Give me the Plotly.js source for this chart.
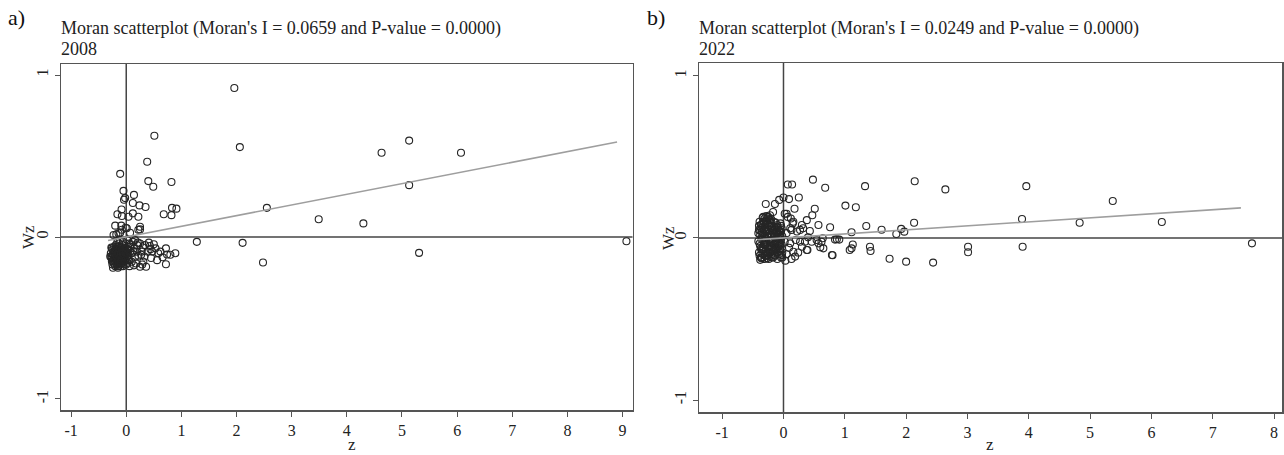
<!DOCTYPE html>
<html>
<head>
<meta charset="utf-8">
<script src="https://cdn.plot.ly/plotly-3.0.1.min.js"></script>
<style>html,body{margin:0;padding:0;background:#fff;}#chart{width:1284px;height:455px;}</style>
</head>
<body>
<div id="chart"></div>
<script>
// ---- Panel a) 2008 ----
const year2008 = "2008";
const moranI2008 = 0.0659;
const pValue2008 = "0.0000";
const z2008 = [
 1.96,0.51,2.06,5.13,4.63,6.07,5.13,2.55,3.49,4.30,1.28,2.11,2.48,5.31,9.07,
 0.38,-0.11,0.40,0.49,0.82,-0.05,-0.02,-0.04,0.14,0.12,0.24,0.35,0.83,0.91,0.68,0.82,
 -0.085,-0.16,-0.08,0.04,0.12,0.22,-0.20,-0.09,-0.01,0.25,0.25,-0.18,-0.11,0.07,
 -0.08,0.01,0.22,-0.14,-0.23,
 0.16,0.25,0.34,0.43,0.53,0.39,0.62,0.72,0.74,0.80,0.89,0.56,0.72,0.25,0.36,0.31,0.16,0.10,
 0.19,0.07,0.28,0.47,0.18,0.04,0.12,0.20,0.30,0.44,0.10,0.22,0.06,0.14,0.02,0.05,
 -0.28,-0.27,-0.26,-0.25,-0.25,-0.24,-0.23,-0.22,-0.22,-0.21,-0.21,-0.20,-0.19,-0.19,-0.18,-0.18,
 -0.17,-0.17,-0.16,-0.16,-0.15,-0.15,-0.14,-0.14,-0.13,-0.13,-0.12,-0.12,-0.11,-0.11,-0.10,-0.10,
 -0.09,-0.09,-0.08,-0.08,-0.07,-0.07,-0.06,-0.06,-0.05,-0.05,-0.04,-0.03,-0.03,-0.02,-0.01,0.00,
 0.01,0.02,0.03,0.04,0.05,-0.24,-0.20,-0.15,-0.27,-0.29,-0.12,-0.06,-0.01,0.02,-0.16,
 -0.27,-0.26,-0.24,-0.23,-0.22,-0.21,-0.20,-0.19,-0.18,-0.17,
 -0.16,-0.15,-0.14,-0.13,-0.12,-0.11,-0.10,-0.09,-0.08,-0.07,
 -0.06,-0.05,-0.04,-0.03,-0.02,-0.01,0.00,0.01,0.03,0.04,
 -0.25,-0.22,-0.18,-0.14,-0.10,-0.06,-0.02,0.02,
 0.08,0.14,0.21,0.27,0.33,0.41,0.50,0.58,0.66,0.13,0.29,0.45
];
const wz2008 = [
 0.92,0.625,0.555,0.595,0.52,0.52,0.32,0.18,0.11,0.084,-0.03,-0.036,-0.157,-0.098,-0.026,
 0.465,0.39,0.345,0.31,0.34,0.285,0.24,0.23,0.26,0.21,0.195,0.185,0.18,0.175,0.14,0.135,
 0.17,0.14,0.13,0.125,0.146,0.125,0.07,0.07,0.057,0.063,0.047,0.016,0.026,0.026,
 0.045,0.054,0.045,0.023,0.012,
 -0.019,-0.04,-0.05,-0.056,-0.07,-0.09,-0.09,-0.07,-0.108,-0.11,-0.10,-0.143,-0.168,-0.184,-0.184,-0.153,-0.122,-0.153,
 -0.09,-0.06,-0.09,-0.09,-0.164,-0.143,-0.03,-0.05,-0.065,-0.075,-0.10,-0.115,-0.18,-0.175,-0.08,-0.04,
 -0.10,-0.13,-0.15,-0.08,-0.17,-0.11,-0.14,-0.06,-0.16,-0.09,-0.12,-0.18,-0.05,-0.14,-0.10,-0.16,
 -0.08,-0.12,-0.15,-0.18,-0.06,-0.11,-0.13,-0.09,-0.16,-0.04,-0.12,-0.07,-0.15,-0.10,-0.18,-0.13,
 -0.06,-0.09,-0.14,-0.11,-0.16,-0.05,-0.12,-0.08,-0.15,-0.10,-0.13,-0.07,-0.17,-0.11,-0.14,-0.09,
 -0.12,-0.16,-0.06,-0.11,-0.14,-0.19,-0.075,-0.19,-0.065,-0.12,-0.02,-0.03,-0.04,-0.02,-0.03,
 -0.12,-0.07,-0.15,-0.09,-0.13,-0.17,-0.11,-0.08,-0.13,-0.17,
 -0.09,-0.14,-0.18,-0.10,-0.15,-0.07,-0.11,-0.16,-0.08,-0.13,
 -0.18,-0.07,-0.11,-0.15,-0.08,-0.10,-0.17,-0.07,-0.13,-0.08,
 -0.13,-0.10,-0.07,-0.165,-0.155,-0.105,-0.145,-0.10,
 -0.045,-0.07,-0.035,-0.11,-0.12,-0.035,-0.045,-0.10,-0.125,-0.09,-0.17,-0.13
];
const fitZ2008 = [-0.33, 8.9];

// ---- Panel b) 2022 ----
const year2022 = "2022";
const moranI2022 = 0.0249;
const pValue2022 = "0.0000";
const z2022 = [
 0.48,0.07,0.14,0.68,1.33,2.14,2.64,3.96,3.89,3.90,4.83,5.37,6.17,7.64,
 -0.29,-0.14,-0.07,0.00,0.09,0.25,0.18,0.51,0.47,1.01,1.18,0.57,0.76,1.11,1.35,1.60,1.84,1.92,1.97,2.13,
 0.64,0.84,0.91,1.13,1.08,1.41,1.42,0.80,1.73,2.00,2.44,3.01,3.01,0.57,0.60,0.65,0.39,0.19,0.16,0.24,
 0.30,0.27,0.20,0.46,0.40,0.43,0.30,0.27,0.15,0.11,0.05,0.12,-0.17,-0.22,-0.27,-0.33,-0.36,0.02,0.07,-0.25,
 0.16,0.38,0.32,-0.04,0.05,0.13,0.22,0.11,0.35,0.54,0.62,0.87,0.38,0.79,1.11,0.02,0.09,0.05,0.13,0.03,-0.02,
 -0.41,-0.40,-0.40,-0.39,-0.38,-0.38,-0.37,-0.36,-0.35,-0.35,-0.34,-0.33,-0.33,-0.32,-0.31,-0.31,
 -0.30,-0.30,-0.29,-0.28,-0.28,-0.27,-0.26,-0.26,-0.25,-0.24,-0.24,-0.23,-0.22,-0.22,-0.21,-0.20,
 -0.20,-0.19,-0.18,-0.18,-0.17,-0.16,-0.16,-0.15,-0.14,-0.14,-0.13,-0.12,-0.12,-0.11,-0.10,-0.10,
 -0.09,-0.09,-0.08,-0.07,-0.07,-0.06,-0.05,-0.05,-0.04,-0.04,-0.03,-0.03,-0.02,-0.02,
 -0.39,-0.36,-0.34,-0.32,-0.29,-0.27,-0.25,-0.23,-0.21,-0.19,-0.17,-0.15,-0.13,-0.11,-0.08,-0.06,
 -0.41,-0.37,-0.30,-0.26,-0.20,-0.15,-0.10,-0.33,-0.25,-0.35,
 -0.40,-0.39,-0.38,-0.37,-0.36,-0.35,-0.34,-0.33,-0.32,-0.31,
 -0.30,-0.29,-0.28,-0.27,-0.26,-0.25,-0.24,-0.23,-0.22,-0.21,
 -0.20,-0.19,-0.18,-0.17,-0.16,-0.15,-0.14,-0.13,-0.12,-0.11,
 -0.10,-0.09,-0.08,-0.07,-0.06,-0.05,-0.04,-0.03,-0.38,-0.34,
 -0.30,-0.26,-0.22,-0.18,-0.14,-0.10,-0.06,-0.36,-0.28,-0.20
];
const wz2022 = [
 0.36,0.33,0.33,0.31,0.32,0.35,0.30,0.32,0.117,-0.054,0.094,0.228,0.099,-0.033,
 0.21,0.21,0.235,0.25,0.24,0.25,0.18,0.18,0.14,0.20,0.19,0.08,0.066,0.035,0.074,0.051,0.025,0.056,0.039,0.094,
 -0.002,-0.01,-0.01,-0.04,-0.074,-0.054,-0.08,-0.107,-0.128,-0.146,-0.152,-0.054,-0.088,-0.033,-0.057,-0.064,-0.074,-0.115,-0.085,-0.09,
 -0.054,-0.023,-0.012,-0.023,0.004,0.043,0.08,0.05,0.09,0.06,0.15,0.12,0.16,0.14,0.12,0.10,0.08,0.15,0.13,0.13,
 0.10,0.11,0.06,0.04,0.03,0.05,0.04,-0.033,-0.023,-0.012,-0.023,-0.008,-0.074,-0.105,-0.064,-0.023,-0.06,-0.10,-0.13,-0.14,-0.12,
 -0.02,0.05,-0.09,0.10,-0.05,0.02,-0.12,0.06,-0.07,-0.01,0.09,-0.10,0.03,-0.04,0.12,-0.13,
 0.00,0.07,-0.08,-0.03,0.04,-0.11,0.09,0.01,-0.06,-0.13,0.05,-0.02,-0.09,0.11,0.02,-0.05,
 0.07,-0.12,-0.01,0.04,-0.08,0.10,-0.04,0.01,-0.11,0.06,-0.06,0.03,-0.02,-0.09,0.08,-0.13,
 0.00,-0.05,0.05,-0.10,-0.03,0.02,-0.07,0.09,-0.12,-0.01,0.06,-0.04,-0.09,0.01,
 -0.11,0.00,-0.06,0.05,0.10,-0.05,0.00,0.08,-0.07,0.02,-0.12,0.05,-0.03,0.07,-0.08,0.04,
 0.03,0.08,-0.11,-0.09,-0.10,-0.08,-0.06,0.13,0.12,-0.12,
 0.075,-0.035,0.045,-0.065,-0.095,0.035,0.015,-0.075,0.10,-0.025,
 0.045,-0.015,0.105,-0.125,0.025,-0.095,0.075,-0.115,-0.045,0.095,
 -0.015,-0.085,0.075,0.045,-0.105,-0.035,0.025,0.095,-0.075,0.035,
 -0.025,0.065,0.015,0.045,-0.065,-0.035,0.075,-0.105,-0.135,0.125,
 -0.045,0.055,-0.025,-0.055,-0.065,0.035,-0.045,-0.125,0.135,0.115
];
const fitZ2022 = [-0.42, 7.46];

const xTicks2008 = [-1,0,1,2,3,4,5,6,7,8,9];
const xTicks2022 = [-1,0,1,2,3,4,5,6,7,8];
const yTicks = [-1,0,1];

const W = 1284, H = 455;
const serif = "Liberation Serif, Times New Roman, serif";
const px = v => v / W;
const py = v => 1 - v / H;

const markerStyle = {symbol: 'circle-open', size: 7, color: '#262626', line: {width: 1.1, color: '#262626'}};

const traces = [
  {x: z2008, y: wz2008, type: 'scatter', mode: 'markers', marker: markerStyle, xaxis: 'x', yaxis: 'y', hoverinfo: 'x+y'},
  {x: fitZ2008, y: fitZ2008.map(v => v * moranI2008), type: 'scatter', mode: 'lines', line: {color: '#9e9e9e', width: 1.6}, xaxis: 'x', yaxis: 'y'},
  {x: z2022, y: wz2022, type: 'scatter', mode: 'markers', marker: markerStyle, xaxis: 'x2', yaxis: 'y2', hoverinfo: 'x+y'},
  {x: fitZ2022, y: fitZ2022.map(v => v * moranI2022), type: 'scatter', mode: 'lines', line: {color: '#9e9e9e', width: 1.6}, xaxis: 'x2', yaxis: 'y2'}
];

const axisCommon = {
  showgrid: false, zeroline: false, showline: true, mirror: true,
  linecolor: '#555', linewidth: 1.5, ticks: 'outside', ticklen: 5, tickwidth: 1, tickcolor: '#555',
  tickfont: {family: serif, size: 16, color: '#222'}, tickmode: 'array', fixedrange: true
};

const refLine = {color: '#444', width: 1.5};
const titleFont = {family: serif, size: 18, color: '#222'};
const labelFont = {family: serif, size: 17, color: '#222'};

const layout = {
  width: W, height: H, margin: {l: 0, r: 0, t: 0, b: 0},
  paper_bgcolor: '#fff', plot_bgcolor: '#fff', showlegend: false,
  font: {family: serif},
  xaxis: Object.assign({}, axisCommon, {domain: [px(61), px(632.5)], range: [-1.183, 9.18], tickvals: xTicks2008, ticktext: xTicks2008.map(String), anchor: 'y'}),
  yaxis: Object.assign({}, axisCommon, {domain: [py(410), py(64)], range: [-1.068, 1.068], tickvals: yTicks, ticktext: yTicks.map(String), tickangle: -90, anchor: 'x'}),
  xaxis2: Object.assign({}, axisCommon, {domain: [px(699), px(1282)], range: [-1.378, 8.13], tickvals: xTicks2022, ticktext: xTicks2022.map(String), anchor: 'y2'}),
  yaxis2: Object.assign({}, axisCommon, {domain: [py(412), py(63)], range: [-1.074, 1.08], tickvals: yTicks, ticktext: yTicks.map(String), tickangle: -90, anchor: 'x2'}),
  shapes: [
    {type: 'line', xref: 'x', yref: 'y domain', x0: 0, x1: 0, y0: 0, y1: 1, line: refLine, layer: 'below'},
    {type: 'line', xref: 'x domain', yref: 'y', x0: 0, x1: 1, y0: 0, y1: 0, line: refLine, layer: 'below'},
    {type: 'line', xref: 'x2', yref: 'y2 domain', x0: 0, x1: 0, y0: 0, y1: 1, line: refLine, layer: 'below'},
    {type: 'line', xref: 'x2 domain', yref: 'y2', x0: 0, x1: 1, y0: 0, y1: 0, line: refLine, layer: 'below'}
  ],
  annotations: [
    {text: 'a)', xref: 'paper', yref: 'paper', x: px(6), y: py(3), xanchor: 'left', yanchor: 'top', showarrow: false, font: {family: serif, size: 22, color: '#111'}},
    {text: "Moran scatterplot (Moran's I = " + moranI2008.toFixed(4) + " and P-value = " + pValue2008 + ")", xref: 'paper', yref: 'paper', x: px(59), y: py(28), xanchor: 'left', yanchor: 'middle', showarrow: false, font: titleFont},
    {text: year2008, xref: 'paper', yref: 'paper', x: px(59), y: py(49), xanchor: 'left', yanchor: 'middle', showarrow: false, font: titleFont},
    {text: 'Wz', xref: 'paper', yref: 'paper', x: px(28), y: py(237), xanchor: 'center', yanchor: 'middle', textangle: -90, showarrow: false, font: labelFont},
    {text: 'z', xref: 'paper', yref: 'paper', x: px(352), y: py(444), xanchor: 'center', yanchor: 'middle', showarrow: false, font: labelFont},
    {text: 'b)', xref: 'paper', yref: 'paper', x: px(645), y: py(3), xanchor: 'left', yanchor: 'top', showarrow: false, font: {family: serif, size: 22, color: '#111'}},
    {text: "Moran scatterplot (Moran's I = " + moranI2022.toFixed(4) + " and P-value = " + pValue2022 + ")", xref: 'paper', yref: 'paper', x: px(697), y: py(28), xanchor: 'left', yanchor: 'middle', showarrow: false, font: titleFont},
    {text: year2022, xref: 'paper', yref: 'paper', x: px(697), y: py(49), xanchor: 'left', yanchor: 'middle', showarrow: false, font: titleFont},
    {text: 'Wz', xref: 'paper', yref: 'paper', x: px(668), y: py(238), xanchor: 'center', yanchor: 'middle', textangle: -90, showarrow: false, font: labelFont},
    {text: 'z', xref: 'paper', yref: 'paper', x: px(990), y: py(444), xanchor: 'center', yanchor: 'middle', showarrow: false, font: labelFont}
  ]
};

Plotly.newPlot('chart', traces, layout, {displayModeBar: false, staticPlot: true});
</script>
</body>
</html>
